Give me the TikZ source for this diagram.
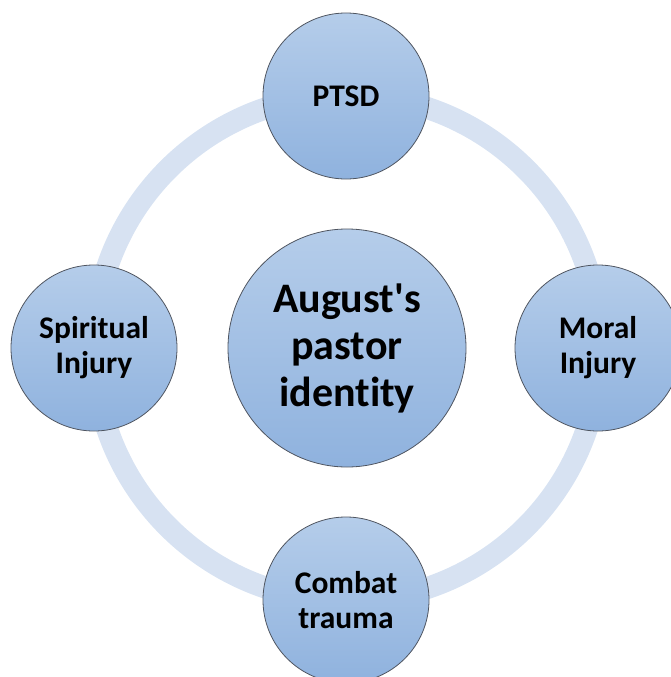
\documentclass[tikz,border=0pt]{standalone}
\usepackage{fontspec}
\setmainfont{Carlito}[Ligatures={TeXOff,NoCommon}]

\definecolor{ringblue}{HTML}{D7E2F2}
\definecolor{bubbletop}{HTML}{B5CDEA}
\definecolor{bubblebottom}{HTML}{8FB2DE}
\definecolor{bubbleline}{HTML}{4F5560}

\begin{document}
\begin{tikzpicture}[x=1pt, y=-1pt,
    bubble/.style={circle, draw=bubbleline, line width=0.8pt,
      top color=bubbletop, bottom color=bubblebottom,
      minimum size=166pt, inner sep=0pt, align=center,
      font=\bfseries\fontsize{31.5}{35}\selectfont},
    core/.style={bubble, minimum size=238pt,
      font=\bfseries\fontsize{42}{47}\selectfont}]
  \useasboundingbox (0,0) rectangle (671,677);
  % ring behind the bubbles
  \draw[ringblue, line width=22pt] (347,348) circle[radius=253pt];
  \node[core] (identity) at (347,348) {August's\\pastor\\identity};
  \node[bubble] (ptsd) at (346,96) {PTSD};
  \node[bubble] (moral) at (598,348) {Moral\\Injury};
  \node[bubble] (combat) at (346,600) {Combat\\trauma};
  \node[bubble] (spirit) at (94,348) {Spiritual\\Injury};
\end{tikzpicture}
\end{document}
